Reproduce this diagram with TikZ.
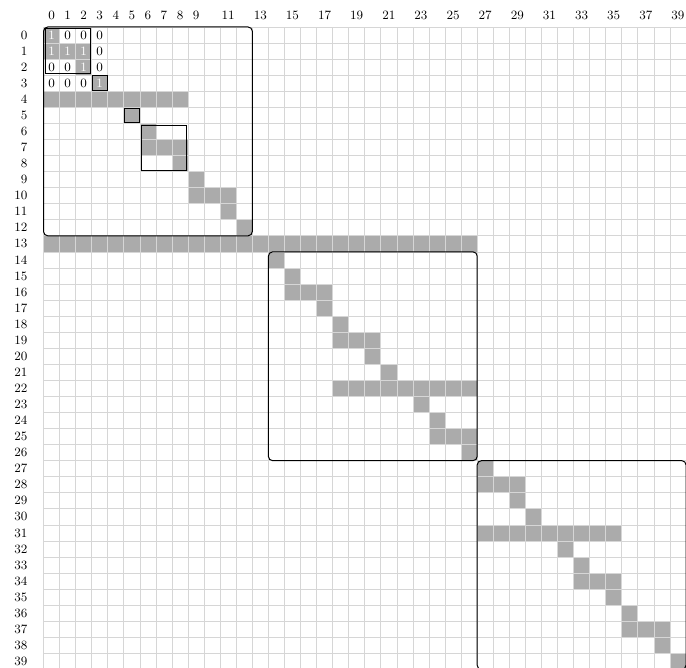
\documentclass[tikz,border=0pt]{standalone}
\usepackage{tikz}
\tikzset{
  nz/.style={fill=black!33},
  cellgrid/.style={draw=black!16,line width=0.5pt},
  blk/.style={draw=black,line width=0.7pt,rounded corners=3pt},
  subblk/.style={draw=black,line width=0.6pt},
  idx/.style={font=\small,inner sep=0pt},
  ent/.style={font=\small,inner sep=0pt}
}
\newcommand{\nzrow}[3]{\fill[nz] (#2,#1) rectangle (#3+1,#1+1);}
\newcommand{\subbox}[4]{\draw[subblk] (#1+0.1,#2+0.1) rectangle (#3-0.1,#4-0.1);}

\begin{document}
\begin{tikzpicture}[x=0.4cm,y=-0.4cm]
\useasboundingbox (-2.71,-1.68) rectangle (40,39.89);
% nonzero pattern: row/first col/last col
\foreach \r/\a/\b in {0/0/0,1/0/2,2/2/2,3/3/3,4/0/8,5/5/5,6/6/6,7/6/8,8/8/8,
  9/9/9,10/9/11,11/11/11,12/12/12,13/0/26,14/14/14,15/15/15,16/15/17,17/17/17,
  18/18/18,19/18/20,20/20/20,21/21/21,22/18/26,23/23/23,24/24/24,25/24/26,
  26/26/26,27/27/27,28/27/29,29/29/29,30/30/30,31/27/35,32/32/32,33/33/33,
  34/33/35,35/35/35,36/36/36,37/36/38,38/38/38,39/39/39}
  {\nzrow{\r}{\a}{\b}}
\draw[cellgrid,step=0.4cm] (0,0) grid (40,40);
% indices
\foreach \c in {0,...,9}
  \node[idx] (col\c) at (\c+0.5,-0.75) {\c};
\foreach \c in {11,13,...,39}
  \node[idx] (col\c) at (\c+0.5,-0.75) {\c};
\foreach \r in {0,...,39}
  \node[idx,anchor=east] (row\r) at (-0.98,\r+0.5) {\r};
% entries of the leading corner
\foreach \r/\c/\v/\tc in {0/0/1/white,0/1/0/black,0/2/0/black,0/3/0/black,
  1/0/1/white,1/1/1/white,1/2/1/white,1/3/0/black,
  2/0/0/black,2/1/0/black,2/2/1/white,2/3/0/black,
  3/0/0/black,3/1/0/black,3/2/0/black,3/3/1/white}
  \node[ent,text=\tc] (e\r\c) at (\c+0.5,\r+0.5) {\v};
% blocks
\draw[blk] (0,0) rectangle (13,13);
\draw[blk] (14,14) rectangle (27,27);
\draw[blk] (27,27) rectangle (40,40);
\subbox{0}{0}{3}{3}
\subbox{6}{6}{9}{9}
\draw[subblk] (3.04,3.04) rectangle (3.96,3.96);
\draw[subblk] (5.04,5.04) rectangle (5.96,5.96);
\end{tikzpicture}
\end{document}
